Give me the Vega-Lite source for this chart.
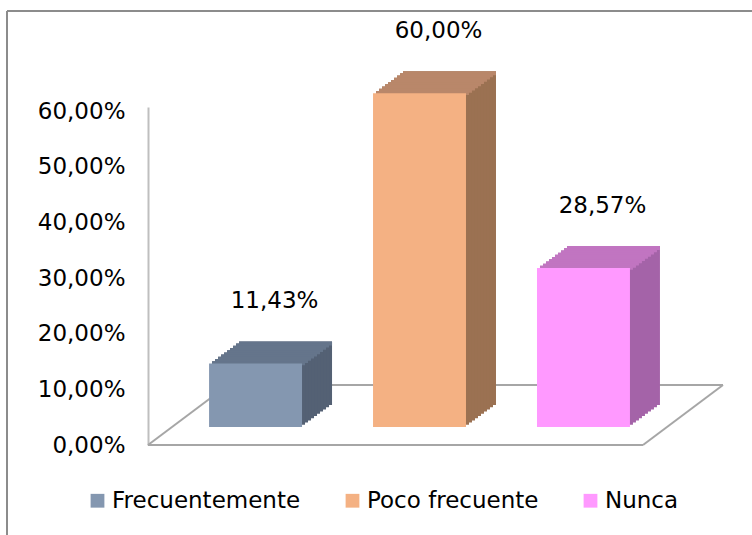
{
  "$schema": "https://vega.github.io/schema/vega-lite/v6.json",
  "width": 495,
  "height": 338,
  "autosize": {"type": "none"},
  "padding": {"left": 148, "top": 107, "right": 109, "bottom": 90},
  "background": "white",
  "data": {"values": [
    {"categoria": "Frecuentemente", "valor": 0.1143},
    {"categoria": "Poco frecuente", "valor": 0.6},
    {"categoria": "Nunca", "valor": 0.2857}
  ]},
  "config": {
    "view": {"stroke": null},
    "font": "DejaVu Sans",
    "locale": {"number": {"decimal": ",", "thousands": ".", "grouping": [3], "currency": ["", " €"]}},
    "axisY": {"domainColor": "#bfbfbf", "domainWidth": 2, "ticks": false, "tickSize": 0, "grid": false, "labelFont": "DejaVu Sans", "labelFontSize": 23, "labelColor": "#000000", "labelPadding": 23}
  },
  "resolve": {"scale": {"x": "independent"}},
  "layer": [
    {
      "transform": [{"aggregate": [{"op": "count", "as": "n"}]}],
      "encoding": {
        "x": {"datum": 0, "type": "quantitative", "scale": {"domain": [0, 1], "nice": false, "zero": false}, "axis": null},
        "y": {"datum": 0, "type": "quantitative", "scale": {"domain": [0, 0.6075], "nice": false}, "title": null, "axis": {"values": [0, 0.1, 0.2, 0.3, 0.4, 0.5, 0.6], "format": ".2%"}}
      },
      "layer": [
        {"mark": {"type": "rule", "color": "#a6a6a6", "strokeWidth": 2}, "encoding": {"x2": {"datum": 1}}},
        {"mark": {"type": "rule", "color": "#a6a6a6", "strokeWidth": 2, "xOffset": 80, "x2Offset": 80, "yOffset": -60}, "encoding": {"x2": {"datum": 1}}},
        {"mark": {"type": "rule", "color": "#a6a6a6", "strokeWidth": 2, "x2Offset": 80, "y2Offset": -60}, "encoding": {"x2": {"datum": 0}, "y2": {"datum": 0}}},
        {"mark": {"type": "rule", "color": "#a6a6a6", "strokeWidth": 2, "x2Offset": 80, "y2Offset": -60}, "encoding": {"x": {"datum": 1, "type": "quantitative", "scale": {"domain": [0, 1], "nice": false, "zero": false}, "axis": null}, "x2": {"datum": 1}, "y2": {"datum": 0}}},
        {"mark": {"type": "rule", "color": "#8c8c8c", "strokeWidth": 2, "xOffset": -141, "x2Offset": 109, "yOffset": -96}, "encoding": {"x2": {"datum": 1}, "y": {"datum": 0.6075, "type": "quantitative", "title": null, "axis": {"values": [0, 0.1, 0.2, 0.3, 0.4, 0.5, 0.6], "format": ".2%"}}}},
        {"mark": {"type": "rule", "color": "#8c8c8c", "strokeWidth": 2, "xOffset": -141, "x2Offset": -141, "yOffset": -96, "y2Offset": 90}, "encoding": {"x2": {"datum": 0}, "y": {"datum": 0.6075, "type": "quantitative", "title": null, "axis": {"values": [0, 0.1, 0.2, 0.3, 0.4, 0.5, 0.6], "format": ".2%"}}, "y2": {"datum": 0}}}
      ]
    },
    {
      "resolve": {"scale": {"color": "independent"}},
      "encoding": {
        "x": {"field": "categoria", "type": "nominal", "sort": null, "scale": {"domain": ["Frecuentemente", "Poco frecuente", "Nunca"], "paddingInner": 0.433, "paddingOuter": 0.226, "align": 0.824}, "axis": null},
        "y": {"field": "valor", "type": "quantitative", "scale": {"domain": [0, 0.6075], "nice": false}, "title": null, "axis": {"values": [0, 0.1, 0.2, 0.3, 0.4, 0.5, 0.6], "format": ".2%"}}
      },
      "layer": [
        {
          "encoding": {
            "y2": {"datum": 0},
            "color": {"field": "categoria", "type": "nominal", "scale": {"domain": ["Frecuentemente", "Poco frecuente", "Nunca"], "range": ["#546174", "#9b7152", "#a463a8"]}, "legend": null}
          },
          "layer": [
            {"mark": {"type": "bar", "xOffset": 30, "yOffset": -40, "y2Offset": -40}},
            {"mark": {"type": "bar", "xOffset": 27, "yOffset": -37.8, "y2Offset": -37.8}},
            {"mark": {"type": "bar", "xOffset": 24, "yOffset": -35.6, "y2Offset": -35.6}},
            {"mark": {"type": "bar", "xOffset": 21, "yOffset": -33.4, "y2Offset": -33.4}},
            {"mark": {"type": "bar", "xOffset": 18, "yOffset": -31.2, "y2Offset": -31.2}},
            {"mark": {"type": "bar", "xOffset": 15, "yOffset": -29, "y2Offset": -29}},
            {"mark": {"type": "bar", "xOffset": 12, "yOffset": -26.8, "y2Offset": -26.8}},
            {"mark": {"type": "bar", "xOffset": 9, "yOffset": -24.6, "y2Offset": -24.6}},
            {"mark": {"type": "bar", "xOffset": 6, "yOffset": -22.4, "y2Offset": -22.4}},
            {"mark": {"type": "bar", "xOffset": 3, "yOffset": -20.2, "y2Offset": -20.2}}
          ]
        },
        {
          "encoding": {
            "y2": {"field": "valor"},
            "color": {"field": "categoria", "type": "nominal", "scale": {"domain": ["Frecuentemente", "Poco frecuente", "Nunca"], "range": ["#65758b", "#b9876a", "#c175c1"]}, "legend": null}
          },
          "layer": [
            {"mark": {"type": "bar", "xOffset": 30, "yOffset": -40, "y2Offset": -36}},
            {"mark": {"type": "bar", "xOffset": 27, "yOffset": -37.8, "y2Offset": -33.8}},
            {"mark": {"type": "bar", "xOffset": 24, "yOffset": -35.6, "y2Offset": -31.6}},
            {"mark": {"type": "bar", "xOffset": 21, "yOffset": -33.4, "y2Offset": -29.4}},
            {"mark": {"type": "bar", "xOffset": 18, "yOffset": -31.2, "y2Offset": -27.2}},
            {"mark": {"type": "bar", "xOffset": 15, "yOffset": -29, "y2Offset": -25}},
            {"mark": {"type": "bar", "xOffset": 12, "yOffset": -26.8, "y2Offset": -22.8}},
            {"mark": {"type": "bar", "xOffset": 9, "yOffset": -24.6, "y2Offset": -20.6}},
            {"mark": {"type": "bar", "xOffset": 6, "yOffset": -22.4, "y2Offset": -18.4}},
            {"mark": {"type": "bar", "xOffset": 3, "yOffset": -20.2, "y2Offset": -16.2}}
          ]
        },
        {
          "mark": {"type": "bar", "yOffset": -18, "y2Offset": -18},
          "encoding": {
            "y2": {"datum": 0},
            "color": {"field": "categoria", "type": "nominal", "scale": {"domain": ["Frecuentemente", "Poco frecuente", "Nunca"], "range": ["#8497b0", "#f4b183", "#ff99ff"]},
              "legend": {"title": null, "orient": "none", "legendX": -62, "legendY": 382, "direction": "horizontal", "columns": 3, "symbolType": "square", "symbolSize": 190, "symbolStrokeWidth": 0, "labelFont": "DejaVu Sans", "labelFontSize": 23, "labelOffset": 3, "columnPadding": 40, "labelColor": "#000000", "labelLimit": 400}}
          }
        },
        {
          "mark": {"type": "text", "font": "DejaVu Sans", "fontSize": 23, "dx": 19, "dy": -80, "baseline": "middle", "align": "center", "color": "#000000"},
          "encoding": {"text": {"field": "valor", "type": "quantitative", "format": ".2%"}}
        }
      ]
    }
  ]
}
